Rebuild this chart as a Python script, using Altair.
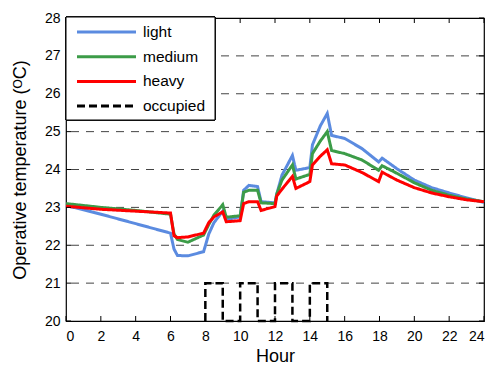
import altair as alt
import pandas as pd

hours = [0, 2, 4, 6, 6.2, 6.4, 7, 7.9, 8.2, 8.5, 9, 9.2, 10, 10.2, 10.5, 11, 11.2, 12, 12.1, 12.4,
         13, 13.2, 14, 14.15, 14.6, 15, 15.25, 16, 17, 17.95, 18.15, 19, 20, 21, 22, 23, 24]
light = [23.05, 22.82, 22.57, 22.32, 21.9, 21.73, 21.72, 21.83, 22.3, 22.6, 22.9, 22.68, 22.75, 23.45,
         23.58, 23.55, 23.15, 23.12, 23.35, 23.85, 24.37, 23.98, 24.05, 24.65, 25.15, 25.48, 24.9,
         24.82, 24.55, 24.2, 24.3, 24.02, 23.72, 23.52, 23.38, 23.25, 23.13]
medium = [23.1, 23.0, 22.92, 22.82, 22.3, 22.15, 22.08, 22.27, 22.55, 22.8, 23.07, 22.74, 22.78, 23.4,
          23.45, 23.45, 23.12, 23.1, 23.35, 23.72, 24.12, 23.75, 23.87, 24.42, 24.75, 25.0, 24.5,
          24.42, 24.25, 23.98, 24.1, 23.9, 23.65, 23.45, 23.32, 23.22, 23.15]
heavy = [23.03, 22.95, 22.9, 22.85, 22.25, 22.2, 22.22, 22.32, 22.6, 22.75, 22.88, 22.62, 22.65, 23.1,
         23.15, 23.15, 22.92, 23.02, 23.3, 23.48, 23.82, 23.5, 23.68, 24.12, 24.35, 24.52, 24.15,
         24.12, 23.92, 23.68, 23.93, 23.72, 23.52, 23.38, 23.28, 23.2, 23.15]
occ_hours = [8, 8, 9, 9, 10, 10, 11, 11, 12, 12, 13, 13, 14, 14, 15, 15]
occ_vals = [20, 21, 21, 20, 20, 21, 21, 20, 20, 21, 21, 20, 20, 21, 21, 20]

series_names = ["light", "medium", "heavy", "occupied"]
series_colors = ["#5B8BE0", "#3C9C48", "#FF0000", "#000000"]
series_dashes = [[1, 0], [1, 0], [1, 0], [8, 4]]
x_ticks = list(range(0, 25, 2))
y_ticks = list(range(20, 29))
grid_vals = list(range(21, 28))

W, H = 418, 303
FONT = "Liberation Sans"


def sdf(name, xs, ys):
    return pd.DataFrame({"hour": xs, "temp": ys, "series": name, "idx": list(range(len(xs)))})


xscale = alt.Scale(domain=[0, 24], nice=False, zero=False)
yscale = alt.Scale(domain=[20, 28], nice=False, zero=False)
X = alt.X("hour:Q", scale=xscale,
          axis=alt.Axis(values=x_ticks, tickSize=0, domain=False, grid=False, labelPadding=8,
                        title="Hour", titlePadding=4, labelFontSize=14, titleFontSize=18,
                        labelFont=FONT, titleFont=FONT, titleFontWeight="normal",
                        labelColor="black", titleColor="black"))
Y = alt.Y("temp:Q", scale=yscale,
          axis=alt.Axis(values=y_ticks, tickSize=0, domain=False, grid=False, labelPadding=6,
                        title="Operative temperature (ᴼC)", titlePadding=15, labelFontSize=14,
                        titleFontSize=18, labelFont=FONT, titleFont=FONT,
                        titleFontWeight="normal", labelColor="black", titleColor="black"))

color = alt.Color("series:N", scale=alt.Scale(domain=series_names, range=series_colors),
                  legend=None)
dash = alt.StrokeDash("series:N", scale=alt.Scale(domain=series_names, range=series_dashes),
                      legend=None)

grid = alt.Chart(pd.DataFrame({"temp": grid_vals})).mark_rule(
    strokeDash=[8, 7], color="#444444", strokeWidth=1).encode(y=Y)


def line(df, width):
    return alt.Chart(df).mark_line(strokeWidth=width).encode(
        x=X, y=Y, color=color, strokeDash=dash, order="idx:Q")


l_light = line(sdf("light", hours, light), 3)
l_medium = line(sdf("medium", hours, medium), 3)
l_heavy = line(sdf("heavy", hours, heavy), 3)
l_occ = line(sdf("occupied", occ_hours, occ_vals), 2.5)

xt = pd.DataFrame({"hour": x_ticks})
yt = pd.DataFrame({"temp": y_ticks})
tb = alt.Chart(xt).mark_rule(color="black").encode(x=X, y=alt.value(H - 5), y2=alt.value(H))
tt = alt.Chart(xt).mark_rule(color="black").encode(x=X, y=alt.value(0), y2=alt.value(5))
tl = alt.Chart(yt).mark_rule(color="black").encode(y=Y, x=alt.value(0), x2=alt.value(5))
tr = alt.Chart(yt).mark_rule(color="black").encode(y=Y, x=alt.value(W - 5), x2=alt.value(W))

# manual legend (top-left box)
leg_df = pd.DataFrame({"series": series_names})
legend_layers = [
    alt.Chart(leg_df).mark_rect(fill="white", stroke="black", strokeWidth=1).encode(
        x=alt.value(0), x2=alt.value(149), y=alt.value(-1), y2=alt.value(102))
]
for i, (name, col, dsh) in enumerate(zip(series_names, series_colors, series_dashes)):
    yy = 14 + i * 24.7
    one = pd.DataFrame({"series": [name]})
    legend_layers.append(
        alt.Chart(one).mark_rule(color=col, strokeWidth=3, strokeDash=dsh).encode(
            x=alt.value(11), x2=alt.value(70), y=alt.value(yy)))
    legend_layers.append(
        alt.Chart(one).mark_text(align="left", baseline="middle", fontSize=15.5, font=FONT,
                                 color="black").encode(
            x=alt.value(77), y=alt.value(yy), text="series:N"))

chart = alt.layer(grid, l_light, l_medium, l_heavy, l_occ, tb, tt, tl, tr,
                  *legend_layers).properties(
    width=W, height=H,
    autosize=alt.AutoSizeParams(type="none"),
    padding={"left": 66, "top": 18, "right": 10, "bottom": 49},
    background="white",
).configure_view(stroke="black", strokeWidth=1.2)

chart.save("out.html", embed_options={"renderer": "svg", "actions": False})
